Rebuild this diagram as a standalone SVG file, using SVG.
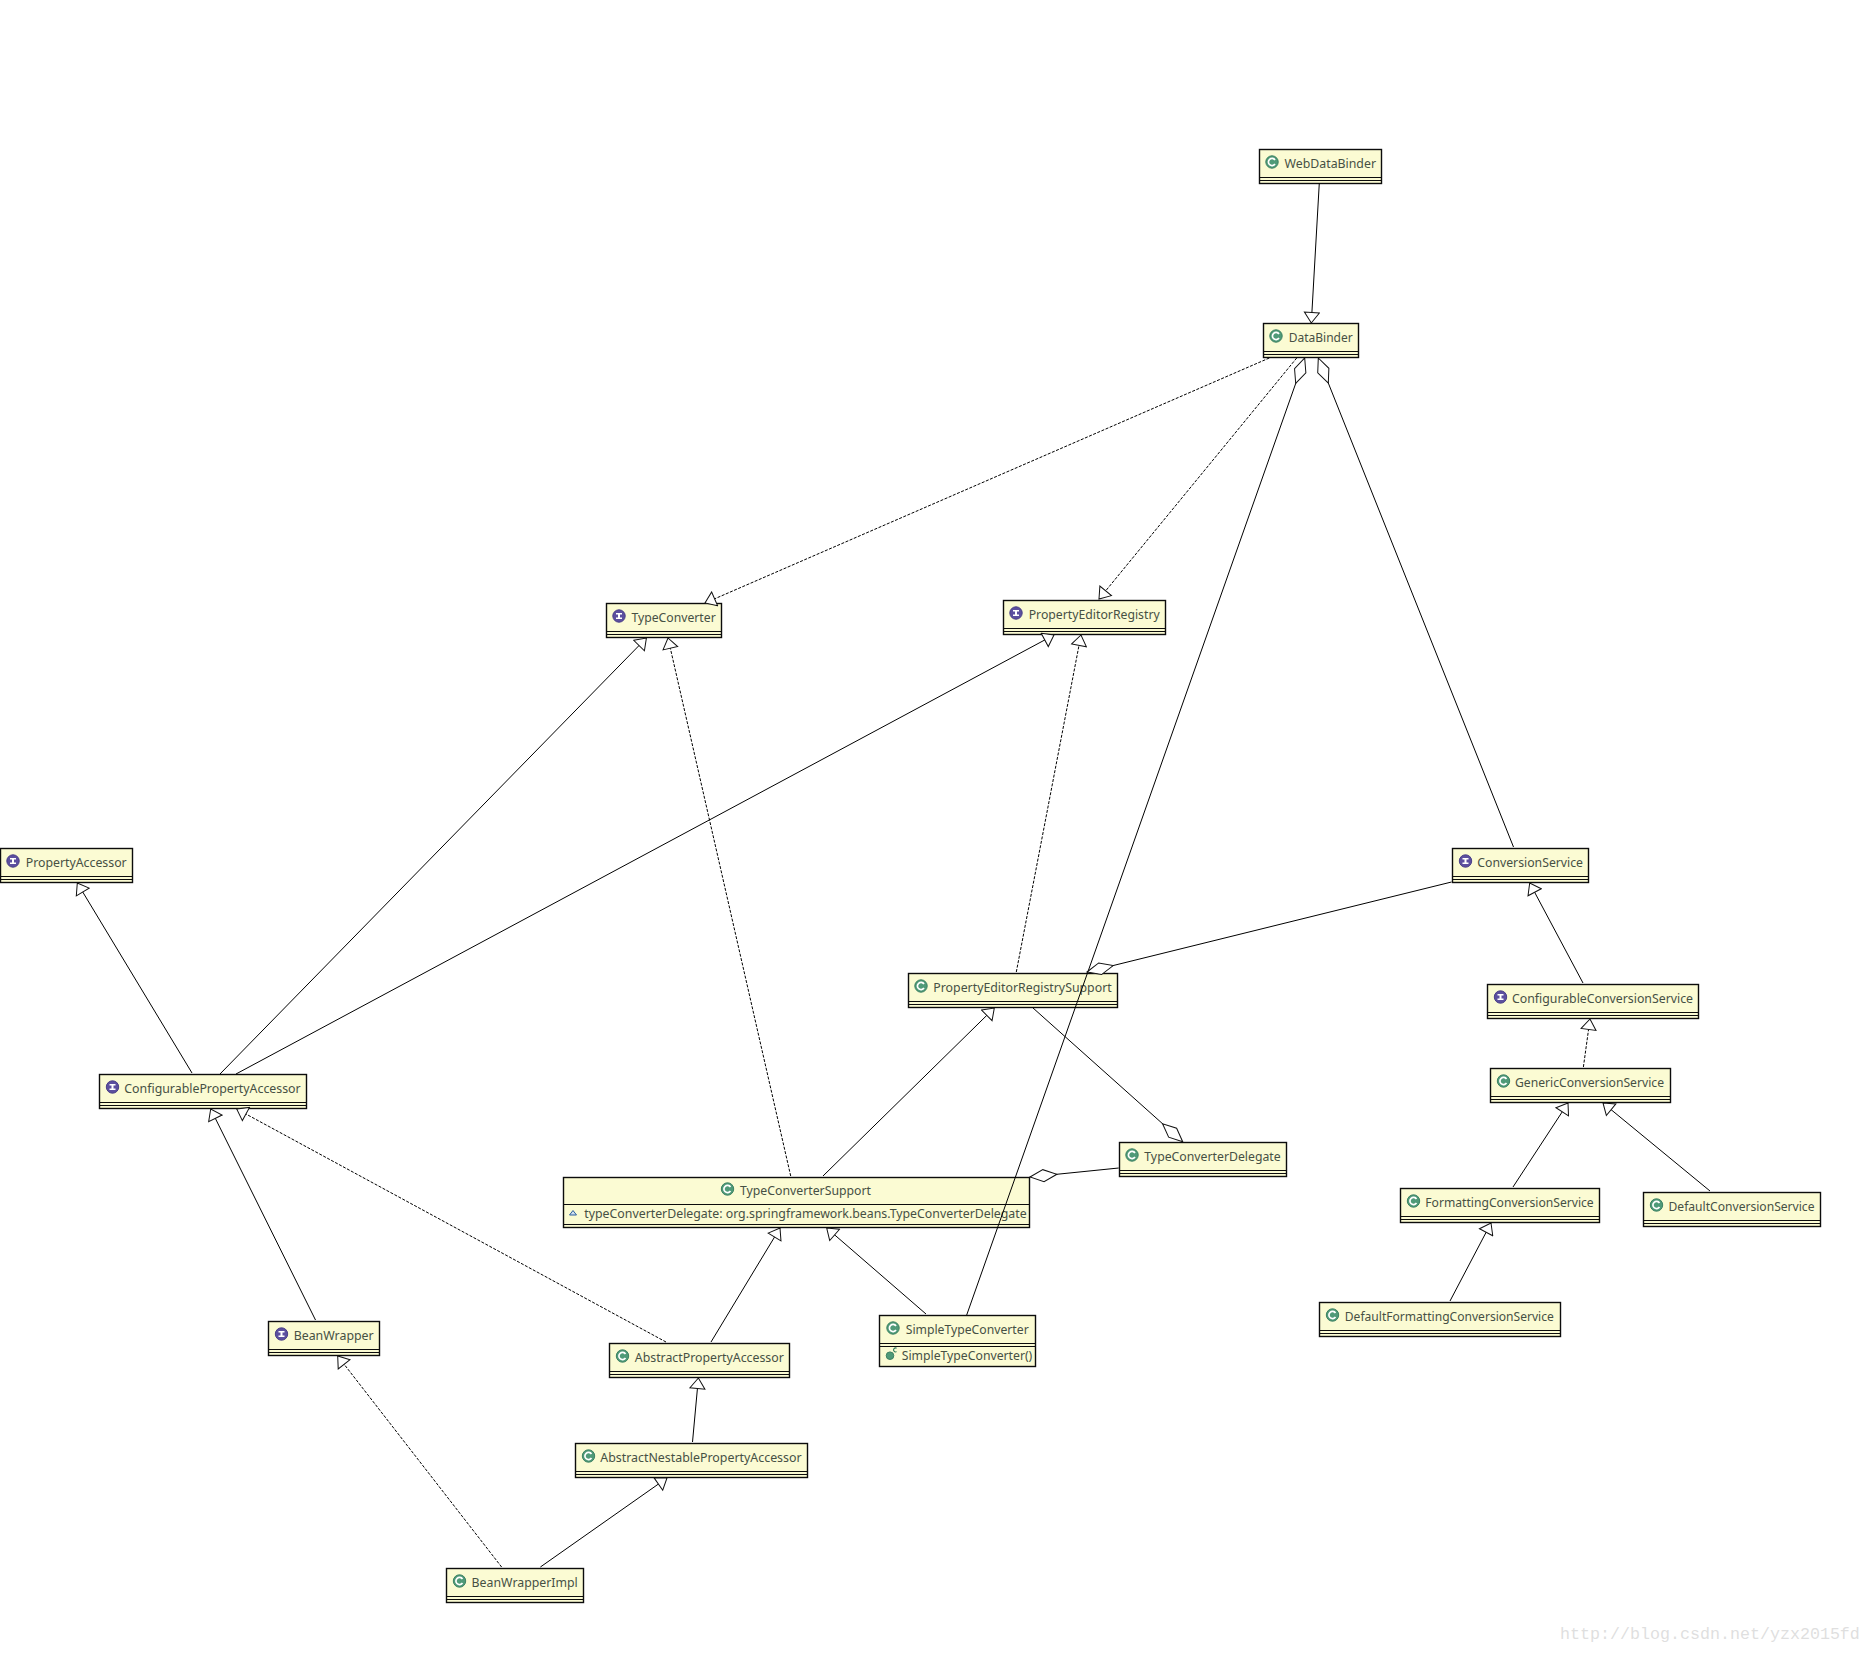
<svg xmlns="http://www.w3.org/2000/svg" width="1871" height="1653" viewBox="0 0 1871 1653">
<style>
.box{fill:#fbfbd3;stroke:#0c0c0c;stroke-width:1.4}
.sep{stroke:#0c0c0c;stroke-width:1.2;fill:none}
.t{font-family:"Noto Sans","Liberation Sans",sans-serif;font-size:12.6px;fill:#465044}
.c{fill:none;stroke:#000;stroke-width:1}
.d{stroke-dasharray:3 1.5}
.inh{marker-end:url(#tri)}
.agg{marker-start:url(#dia)}
.wm{font-family:"Liberation Mono",monospace;font-size:16.67px;fill:#dfdfdf}
</style>
<defs>
<marker id="tri" markerUnits="userSpaceOnUse" markerWidth="13" markerHeight="17" viewBox="0 0 13 17" refX="11.5" refY="8.5" orient="auto"><path d="M1 1L11.5 8.5L1 16Z" fill="#fff" stroke="#111" stroke-width="1"/></marker>
<marker id="dia" markerUnits="userSpaceOnUse" markerWidth="30" markerHeight="15" viewBox="0 0 30 15" refX="1" refY="7.5" orient="auto"><path d="M1 7.5L14.5 1.5L28 7.5L14.5 13.5Z" fill="#fff" stroke="#111" stroke-width="1"/></marker>
<g id="ic"><circle r="6.2" fill="#4f9a78" stroke="#3c8163" stroke-width="1"/><path d="M3-2A3.6 3.6 0 1 0 3 2" fill="none" stroke="#fff" stroke-width="1.7"/></g>
<g id="ii"><circle r="6.2" fill="#5c4f9f" stroke="#4a3f88" stroke-width="1"/><path d="M-3-3H3V-1.5H1V1.5H3V3H-3V1.5H-1V-1.5H-3Z" fill="#fff"/></g>
</defs>
<rect width="1871" height="1653" fill="#fff"/>
<g id="nodes">
<g id="WebDataBinder"><rect class="box" x="1259.5" y="149.5" width="122" height="34"/><path class="sep" d="M1259.5 177.5H1381.5M1259.5 180.5H1381.5"/><use href="#ic" x="1272" y="162"/><text class="t" x="1284.5" y="168" textLength="91.5" lengthAdjust="spacingAndGlyphs">WebDataBinder</text></g>
<g id="DataBinder"><rect class="box" x="1263.5" y="323.5" width="95" height="34"/><path class="sep" d="M1263.5 351.5H1358.5M1263.5 354.5H1358.5"/><use href="#ic" x="1276" y="336"/><text class="t" x="1288.7" y="342" textLength="64" lengthAdjust="spacingAndGlyphs">DataBinder</text></g>
<g id="TypeConverter"><rect class="box" x="606.5" y="603.5" width="115" height="34"/><path class="sep" d="M606.5 631.5H721.5M606.5 634.5H721.5"/><use href="#ii" x="619" y="616"/><text class="t" x="631.4" y="622" textLength="84.3" lengthAdjust="spacingAndGlyphs">TypeConverter</text></g>
<g id="PropertyEditorRegistry"><rect class="box" x="1003.5" y="600.5" width="162" height="34"/><path class="sep" d="M1003.5 628.5H1165.5M1003.5 631.5H1165.5"/><use href="#ii" x="1016" y="613"/><text class="t" x="1028.7" y="619" textLength="131" lengthAdjust="spacingAndGlyphs">PropertyEditorRegistry</text></g>
<g id="PropertyAccessor"><rect class="box" x="0.5" y="848.5" width="132" height="34"/><path class="sep" d="M0.5 876.5H132.5M0.5 879.5H132.5"/><use href="#ii" x="13" y="861"/><text class="t" x="25.7" y="867" textLength="101" lengthAdjust="spacingAndGlyphs">PropertyAccessor</text></g>
<g id="ConfigurablePropertyAccessor"><rect class="box" x="99.5" y="1074.5" width="207" height="34"/><path class="sep" d="M99.5 1102.5H306.5M99.5 1105.5H306.5"/><use href="#ii" x="112.5" y="1087"/><text class="t" x="124.3" y="1093" textLength="176.4" lengthAdjust="spacingAndGlyphs">ConfigurablePropertyAccessor</text></g>
<g id="PropertyEditorRegistrySupport"><rect class="box" x="908.5" y="973.5" width="209" height="34"/><path class="sep" d="M908.5 1001.5H1117.5M908.5 1004.5H1117.5"/><use href="#ic" x="921" y="986"/><text class="t" x="933.3" y="992" textLength="178.4" lengthAdjust="spacingAndGlyphs">PropertyEditorRegistrySupport</text></g>
<g id="TypeConverterDelegate"><rect class="box" x="1119.5" y="1142.5" width="167" height="34"/><path class="sep" d="M1119.5 1170.5H1286.5M1119.5 1173.5H1286.5"/><use href="#ic" x="1132" y="1155"/><text class="t" x="1144.3" y="1161" textLength="136.4" lengthAdjust="spacingAndGlyphs">TypeConverterDelegate</text></g>
<g id="TypeConverterSupport"><rect class="box" x="563.5" y="1177.5" width="466" height="50"/><path class="sep" d="M563.5 1204.5H1029.5M563.5 1224.5H1029.5"/><use href="#ic" x="727.5" y="1189"/><text class="t" x="740" y="1195" textLength="131" lengthAdjust="spacingAndGlyphs">TypeConverterSupport</text><path d="M573 1210.5L576.5 1215H569.5Z" fill="#cfe0ef" stroke="#2c5f9e" stroke-width="1"/><text class="t" x="584.3" y="1217.5" textLength="442.4" lengthAdjust="spacingAndGlyphs">typeConverterDelegate: org.springframework.beans.TypeConverterDelegate</text></g>
<g id="AbstractPropertyAccessor"><rect class="box" x="609.5" y="1343.5" width="180" height="34"/><path class="sep" d="M609.5 1371.5H789.5M609.5 1374.5H789.5"/><use href="#ic" x="622.5" y="1356"/><text class="t" x="634.8" y="1362" textLength="149" lengthAdjust="spacingAndGlyphs">AbstractPropertyAccessor</text></g>
<g id="SimpleTypeConverter"><rect class="box" x="879.5" y="1315.5" width="156" height="51"/><path class="sep" d="M879.5 1343.5H1035.5M879.5 1346.5H1035.5"/><use href="#ic" x="893" y="1328"/><text class="t" x="905.7" y="1334" textLength="123" lengthAdjust="spacingAndGlyphs">SimpleTypeConverter</text><circle cx="890" cy="1355.7" r="3.8" fill="#4f9a78" stroke="#3c8163"/><path d="M896.6 1348.2A2 2 0 1 0 896.6 1351.6" fill="none" stroke="#2e7a58" stroke-width="1.1"/><text class="t" x="901.7" y="1360" textLength="130.6" lengthAdjust="spacingAndGlyphs">SimpleTypeConverter()</text></g>
<g id="BeanWrapper"><rect class="box" x="268.5" y="1321.5" width="111" height="34"/><path class="sep" d="M268.5 1349.5H379.5M268.5 1352.5H379.5"/><use href="#ii" x="281.5" y="1334"/><text class="t" x="293.7" y="1340" textLength="80" lengthAdjust="spacingAndGlyphs">BeanWrapper</text></g>
<g id="AbstractNestablePropertyAccessor"><rect class="box" x="575.5" y="1443.5" width="232" height="34"/><path class="sep" d="M575.5 1471.5H807.5M575.5 1474.5H807.5"/><use href="#ic" x="588.5" y="1456"/><text class="t" x="600.3" y="1462" textLength="201.3" lengthAdjust="spacingAndGlyphs">AbstractNestablePropertyAccessor</text></g>
<g id="BeanWrapperImpl"><rect class="box" x="446.5" y="1568.5" width="137" height="34"/><path class="sep" d="M446.5 1596.5H583.5M446.5 1599.5H583.5"/><use href="#ic" x="459.5" y="1581"/><text class="t" x="471.6" y="1587" textLength="106.2" lengthAdjust="spacingAndGlyphs">BeanWrapperImpl</text></g>
<g id="ConversionService"><rect class="box" x="1452.5" y="848.5" width="136" height="34"/><path class="sep" d="M1452.5 876.5H1588.5M1452.5 879.5H1588.5"/><use href="#ii" x="1465.5" y="861"/><text class="t" x="1477.3" y="867" textLength="105.7" lengthAdjust="spacingAndGlyphs">ConversionService</text></g>
<g id="ConfigurableConversionService"><rect class="box" x="1487.5" y="984.5" width="211" height="34"/><path class="sep" d="M1487.5 1012.5H1698.5M1487.5 1015.5H1698.5"/><use href="#ii" x="1500.5" y="997"/><text class="t" x="1512" y="1003" textLength="181" lengthAdjust="spacingAndGlyphs">ConfigurableConversionService</text></g>
<g id="GenericConversionService"><rect class="box" x="1490.5" y="1068.5" width="180" height="34"/><path class="sep" d="M1490.5 1096.5H1670.5M1490.5 1099.5H1670.5"/><use href="#ic" x="1503.5" y="1081"/><text class="t" x="1515" y="1087" textLength="149" lengthAdjust="spacingAndGlyphs">GenericConversionService</text></g>
<g id="FormattingConversionService"><rect class="box" x="1400.5" y="1188.5" width="199" height="34"/><path class="sep" d="M1400.5 1216.5H1599.5M1400.5 1219.5H1599.5"/><use href="#ic" x="1413.5" y="1201"/><text class="t" x="1425.3" y="1207" textLength="168.4" lengthAdjust="spacingAndGlyphs">FormattingConversionService</text></g>
<g id="DefaultConversionService"><rect class="box" x="1643.5" y="1192.5" width="177" height="34"/><path class="sep" d="M1643.5 1220.5H1820.5M1643.5 1223.5H1820.5"/><use href="#ic" x="1656.5" y="1205"/><text class="t" x="1668.5" y="1211" textLength="146" lengthAdjust="spacingAndGlyphs">DefaultConversionService</text></g>
<g id="DefaultFormattingConversionService"><rect class="box" x="1319.5" y="1302.5" width="241" height="34"/><path class="sep" d="M1319.5 1330.5H1560.5M1319.5 1333.5H1560.5"/><use href="#ic" x="1332.5" y="1315"/><text class="t" x="1344.8" y="1321" textLength="209" lengthAdjust="spacingAndGlyphs">DefaultFormattingConversionService</text></g>
</g>
<g id="connectors">
<path class="c inh" d="M1319.3 183L1311.3 323"/>
<path class="c d inh" d="M1269.3 358L705 603"/>
<path class="c d inh" d="M1296.7 358L1099 599"/>
<path class="c agg" d="M1304.7 358L966.7 1315"/>
<path class="c agg" d="M1318.3 358L1513.5 847"/>
<path class="c inh" d="M192 1073L77.3 883"/>
<path class="c inh" d="M220 1074L646.4 638"/>
<path class="c inh" d="M236 1074L1054 635"/>
<path class="c d inh" d="M790.7 1176L668 638"/>
<path class="c d inh" d="M1016.3 972L1081 635"/>
<path class="c agg" d="M1087 972L1451.5 882"/>
<path class="c agg" d="M1182.7 1141.7L1032.7 1007.7"/>
<path class="c agg" d="M1030 1177L1118.7 1168"/>
<path class="c inh" d="M823 1176L994.3 1008"/>
<path class="c inh" d="M315.5 1320L210.7 1109"/>
<path class="c d inh" d="M666 1342L236.7 1109"/>
<path class="c inh" d="M711 1342L780 1228"/>
<path class="c inh" d="M926 1314L826.7 1228"/>
<path class="c inh" d="M692.5 1442L698.4 1378"/>
<path class="c d inh" d="M501.6 1567L337.7 1356"/>
<path class="c inh" d="M540.4 1567L667 1478"/>
<path class="c inh" d="M1583 983L1529.7 883"/>
<path class="c d inh" d="M1583.4 1067L1590 1019"/>
<path class="c inh" d="M1513 1187L1568 1103"/>
<path class="c inh" d="M1710 1191L1603 1103"/>
<path class="c inh" d="M1450 1301L1491 1223"/>
</g>
<text class="wm" x="1560" y="1639">http://blog.csdn.net/yzx2015fd</text>
</svg>
